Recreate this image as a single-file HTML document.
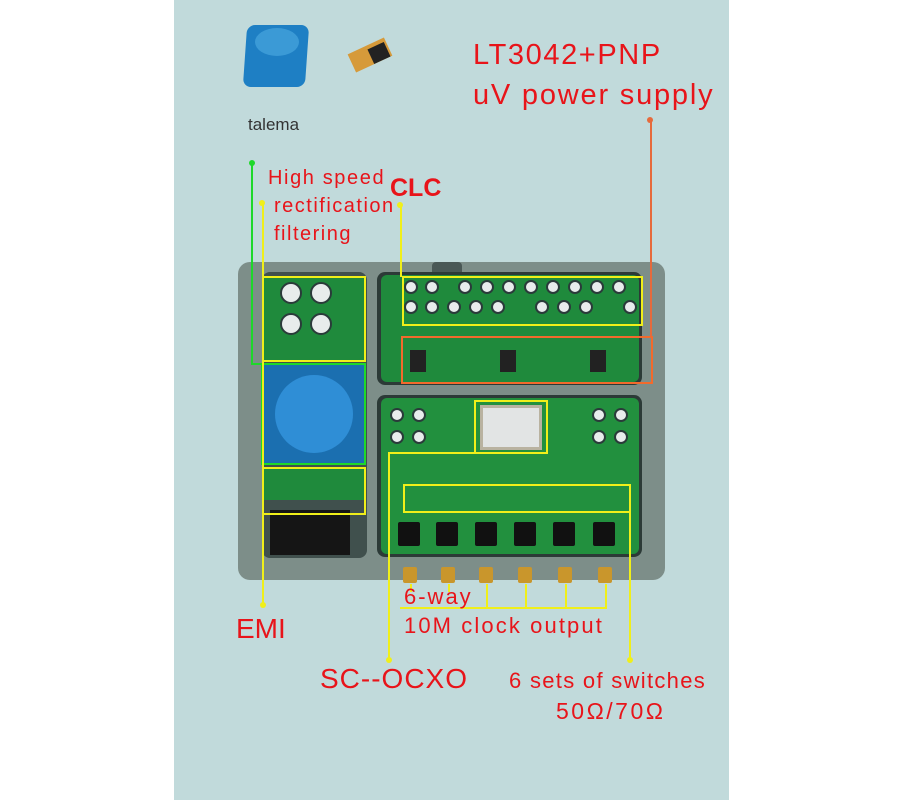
<!DOCTYPE html><html><head><style>
body{margin:0;width:900px;height:800px;background:#fff;position:relative;overflow:hidden;font-family:"Liberation Sans","DejaVu Sans",sans-serif}
div{position:absolute;box-sizing:border-box}
.t{color:#e8141a;white-space:nowrap}
.y{border:2px solid #f0ef1a}
.dot{width:6px;height:6px;border-radius:50%}
.cap{width:14px;height:14px;border-radius:50%;background:#e8ecec;border:2px solid #2a3b3a}
.bc{width:14px;height:16px;background:#c9962c;border-radius:2px}
.sq{width:22px;height:24px;background:#111;border-radius:2px}
</style></head><body>
<div style="left:174px;top:0;width:555px;height:800px;background:#c1dadb"></div>
<!-- top icons -->
<div style="left:245px;top:25px;width:62px;height:62px;background:#1e7fc4;border-radius:8px;transform:skewX(-4deg)"></div>
<div style="left:255px;top:28px;width:44px;height:28px;background:#3b9ad6;border-radius:50%"></div>
<div style="left:350px;top:45px;width:40px;height:20px;background:#d69a3a;transform:rotate(-25deg)"></div>
<div style="left:370px;top:45px;width:18px;height:16px;background:#222;transform:rotate(-25deg)"></div>
<div style="left:248px;top:115px;font-size:17px;color:#333">talema</div>
<div class="t" style="left:473px;top:39px;font-size:29px;letter-spacing:1.6px">LT3042+PNP</div>
<div class="t" style="left:473px;top:79px;font-size:29px;letter-spacing:1.8px">uV power supply</div>
<div class="t" style="left:268px;top:167px;font-size:20px;letter-spacing:1.6px">High speed</div>
<div class="t" style="left:274px;top:195px;font-size:20px;letter-spacing:1.5px">rectification</div>
<div class="t" style="left:274px;top:223px;font-size:20px;letter-spacing:1.5px">filtering</div>
<div class="t" style="left:390px;top:174px;font-size:25px;font-weight:bold">CLC</div>
<!-- case -->
<div style="left:238px;top:262px;width:427px;height:318px;background:#7d8e89;border-radius:12px"></div>
<div style="left:432px;top:262px;width:30px;height:14px;background:#4a5856;border-radius:4px"></div>
<div style="left:262px;top:272px;width:105px;height:286px;background:#40504d;border-radius:8px"></div>
<div style="left:264px;top:276px;width:100px;height:86px;background:#1f8a3c"></div>
<div style="left:264px;top:364px;width:100px;height:100px;background:#1b6fb0"></div>
<div style="left:275px;top:375px;width:78px;height:78px;background:#2f8ed6;border-radius:50%"></div>
<div style="left:264px;top:468px;width:100px;height:32px;background:#1f8a3c"></div>
<div style="left:270px;top:510px;width:80px;height:45px;background:#151515"></div>
<div style="left:377px;top:272px;width:265px;height:113px;background:#2c3a37;border-radius:8px"></div>
<div style="left:381px;top:275px;width:258px;height:107px;background:#1f8a3c;border-radius:6px"></div>
<div style="left:377px;top:395px;width:265px;height:162px;background:#2c3a37;border-radius:8px"></div>
<div style="left:381px;top:398px;width:258px;height:156px;background:#22903e;border-radius:6px"></div>
<div style="left:480px;top:405px;width:62px;height:45px;background:#e2e4e4;border:3px solid #b9b2a0"></div>
<!-- caps -->
<div class="cap" style="left:280px;top:282px;width:22px;height:22px"></div><div class="cap" style="left:310px;top:282px;width:22px;height:22px"></div>
<div class="cap" style="left:280px;top:313px;width:22px;height:22px"></div><div class="cap" style="left:310px;top:313px;width:22px;height:22px"></div>
<div class="cap" style="left:404px;top:280px"></div><div class="cap" style="left:425px;top:280px"></div><div class="cap" style="left:458px;top:280px"></div><div class="cap" style="left:480px;top:280px"></div><div class="cap" style="left:502px;top:280px"></div><div class="cap" style="left:524px;top:280px"></div><div class="cap" style="left:546px;top:280px"></div><div class="cap" style="left:568px;top:280px"></div><div class="cap" style="left:590px;top:280px"></div><div class="cap" style="left:612px;top:280px"></div>
<div class="cap" style="left:404px;top:300px"></div><div class="cap" style="left:425px;top:300px"></div><div class="cap" style="left:447px;top:300px"></div><div class="cap" style="left:469px;top:300px"></div><div class="cap" style="left:491px;top:300px"></div><div class="cap" style="left:535px;top:300px"></div><div class="cap" style="left:557px;top:300px"></div><div class="cap" style="left:579px;top:300px"></div><div class="cap" style="left:623px;top:300px"></div>
<div class="cap" style="left:390px;top:408px"></div><div class="cap" style="left:412px;top:408px"></div><div class="cap" style="left:390px;top:430px"></div><div class="cap" style="left:412px;top:430px"></div>
<div class="cap" style="left:592px;top:408px"></div><div class="cap" style="left:614px;top:408px"></div><div class="cap" style="left:592px;top:430px"></div><div class="cap" style="left:614px;top:430px"></div>
<div style="left:410px;top:350px;width:16px;height:22px;background:#222"></div><div style="left:500px;top:350px;width:16px;height:22px;background:#222"></div><div style="left:590px;top:350px;width:16px;height:22px;background:#222"></div>
<div class="sq" style="left:398px;top:522px"></div><div class="sq" style="left:436px;top:522px"></div><div class="sq" style="left:475px;top:522px"></div><div class="sq" style="left:514px;top:522px"></div><div class="sq" style="left:553px;top:522px"></div><div class="sq" style="left:593px;top:522px"></div>
<div class="bc" style="left:403px;top:567px"></div><div class="bc" style="left:441px;top:567px"></div><div class="bc" style="left:479px;top:567px"></div><div class="bc" style="left:518px;top:567px"></div><div class="bc" style="left:558px;top:567px"></div><div class="bc" style="left:598px;top:567px"></div>
<!-- boxes/lines -->
<div class="y" style="left:262px;top:276px;width:104px;height:86px"></div>
<div style="left:261px;top:363px;width:105px;height:102px;border:2px solid #1ed82a"></div>
<div style="left:251px;top:163px;width:2px;height:202px;background:#1ed82a"></div>
<div style="left:251px;top:363px;width:12px;height:2px;background:#1ed82a"></div>
<div class="dot" style="left:249px;top:160px;background:#1ed82a"></div>
<div class="y" style="left:262px;top:467px;width:104px;height:48px"></div>
<div style="left:262px;top:203px;width:2px;height:402px;background:#f0ef1a"></div>
<div class="dot" style="left:259px;top:200px;background:#f0ef1a"></div>
<div class="dot" style="left:260px;top:602px;background:#f0ef1a"></div>
<div class="y" style="left:402px;top:276px;width:241px;height:50px"></div>
<div style="left:400px;top:205px;width:2px;height:72px;background:#f0ef1a"></div>
<div class="dot" style="left:397px;top:202px;background:#f0ef1a"></div>
<div style="left:401px;top:336px;width:252px;height:48px;border:2px solid #f26a2c"></div>
<div style="left:650px;top:120px;width:2px;height:217px;background:#e66a3c"></div>
<div class="dot" style="left:647px;top:117px;background:#e66a3c"></div>
<div class="y" style="left:474px;top:400px;width:74px;height:54px"></div>
<div style="left:389px;top:452px;width:86px;height:2px;background:#f0ef1a"></div>
<div style="left:388px;top:452px;width:2px;height:208px;background:#f0ef1a"></div>
<div class="dot" style="left:386px;top:657px;background:#f0ef1a"></div>
<div class="y" style="left:403px;top:484px;width:228px;height:29px"></div>
<div style="left:629px;top:512px;width:2px;height:148px;background:#f0ef1a"></div>
<div class="dot" style="left:627px;top:657px;background:#f0ef1a"></div>
<div style="left:486px;top:584px;width:2px;height:25px;background:#f0ef1a"></div><div style="left:525px;top:584px;width:2px;height:25px;background:#f0ef1a"></div><div style="left:565px;top:584px;width:2px;height:25px;background:#f0ef1a"></div><div style="left:605px;top:584px;width:2px;height:25px;background:#f0ef1a"></div>
<div style="left:410px;top:584px;width:2px;height:8px;background:#f0ef1a"></div><div style="left:448px;top:584px;width:2px;height:8px;background:#f0ef1a"></div>
<div style="left:400px;top:607px;width:207px;height:2px;background:#f0ef1a"></div>
<div class="t" style="left:404px;top:584px;font-size:22px;letter-spacing:2px">6-way</div>
<div class="t" style="left:404px;top:613px;font-size:22px;letter-spacing:2.1px">10M clock output</div>
<div class="t" style="left:236px;top:613px;font-size:28px">EMI</div>
<div class="t" style="left:320px;top:663px;font-size:28px;letter-spacing:1px">SC--OCXO</div>
<div class="t" style="left:509px;top:668px;font-size:22px;letter-spacing:1.3px">6 sets of switches</div>
<div class="t" style="left:556px;top:698px;font-size:23px;letter-spacing:2.5px">50Ω/70Ω</div>
</body></html>
